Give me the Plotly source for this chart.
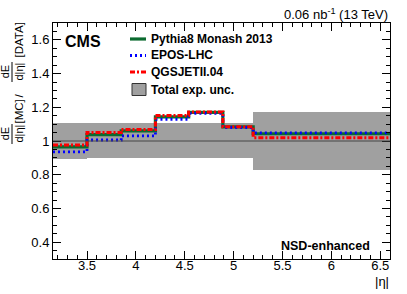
import plotly.graph_objects as go

# ---- data ----
bin_edges = [3.152, 3.5, 3.85, 4.2, 4.54, 4.89, 5.2, 6.6]
pythia = [0.965, 1.038, 1.060, 1.143, 1.170, 1.084, 1.043]
epos = [0.935, 1.006, 1.030, 1.128, 1.164, 1.080, 1.048]
qgsjet = [0.976, 1.050, 1.068, 1.151, 1.172, 1.085, 1.020]
unc_low = [0.893, 0.900, 0.900, 0.900, 0.900, 0.900, 0.830]
unc_high = [1.108, 1.105, 1.105, 1.105, 1.105, 1.105, 1.175]
x_ticks = [3.5, 4, 4.5, 5, 5.5, 6, 6.5]
x_ticklabels = ["3.5", "4", "4.5", "5", "5.5", "6", "6.5"]
y_ticks = [0.4, 0.6, 0.8, 1.0, 1.2, 1.4, 1.6]
y_ticklabels = ["0.4", "0.6", "0.8", "1", "1.2", "1.4", "1.6"]
legend_labels = ["Pythia8 Monash 2013", "EPOS-LHC", "QGSJETII.04", "Total exp. unc."]

W, H = 407, 294
L, R, T, B = 53, 17, 23, 35
FONT = "Liberation Sans, Arial, Helvetica, sans-serif"

GREEN, BLUE, RED, GRAY = "#0b6b30", "#0000ff", "#ff0000", "#a0a0a0"
STYLES = [
    dict(color=GREEN, dash="solid", width=3.2),
    dict(color=BLUE, dash="2px,3px", width=2.8),
    dict(color=RED, dash="5px,2px,2px,2px", width=3),
]


def px(x):
    return (x - L) / (W - L - R)


def py(y):
    return (H - B - y) / (H - T - B)


centers = [(a + b) / 2 for a, b in zip(bin_edges[:-1], bin_edges[1:])]
widths = [b - a for a, b in zip(bin_edges[:-1], bin_edges[1:])]

fig = go.Figure()

fig.add_trace(go.Bar(
    x=centers, y=[h - l for h, l in zip(unc_high, unc_low)], base=unc_low,
    width=widths, marker=dict(color=GRAY, line=dict(width=0)),
    name=legend_labels[3], hoverinfo="skip", showlegend=False))

for vals, name, st in zip([pythia, epos, qgsjet], legend_labels[:3], STYLES):
    fig.add_trace(go.Scatter(
        x=bin_edges, y=vals + [vals[-1]], mode="lines", line_shape="hv",
        line=st, name=name, showlegend=False))

shapes = [dict(type="line", xref="paper", yref="y", x0=0, x1=1, y0=1, y1=1,
               line=dict(color="#444444", width=1), layer="above")]

annotations = []


def ann(text, x, y, xanchor="left", size=12, angle=0):
    annotations.append(dict(text=text, x=px(x), y=py(y), xref="paper", yref="paper",
                            xanchor=xanchor, yanchor="middle", showarrow=False,
                            textangle=angle,
                            font=dict(size=size, family=FONT, color="black")))


ann("<b>CMS</b>", 63, 41, size=16)
ann("0.06 nb<sup>-1</sup> (13 TeV)", 390, 14, xanchor="right", size=13)
ann("<b>NSD-enhanced</b>", 372, 246, xanchor="right", size=12.5)
ann("|η|", 391, 281, xanchor="right", size=13)

# legend drawn by hand (ROOT-style compact rows)
leg_rows = [39, 55.5, 72, 89.5]
for lab, yrow in zip(legend_labels, leg_rows):
    ann("<b>" + lab + "</b>", 148.5, yrow, size=12)
for st, yrow in zip(STYLES, leg_rows[:3]):
    shapes.append(dict(type="line", xref="paper", yref="paper",
                       x0=px(130), x1=px(146), y0=py(yrow), y1=py(yrow),
                       line=st))
yb = leg_rows[3]
shapes.append(dict(type="rect", xref="paper", yref="paper",
                   x0=px(132), x1=px(146), y0=py(yb + 6), y1=py(yb - 6),
                   fillcolor=GRAY, line=dict(color="#333333", width=1)))

# y-axis title built as rotated fractions: dE/d|η| [MC] / dE/d|η| [DATA]
TS = 11


def frac(yc):
    ann("dE<br>d|η|", 11.5, yc, xanchor="center", size=TS, angle=-90)
    shapes.append(dict(type="line", xref="paper", yref="paper",
                       x0=px(12), x1=px(12), y0=py(yc - 10), y1=py(yc + 10),
                       line=dict(color="black", width=1)))


frac(134)
ann("[MC]", 18.5, 112, xanchor="center", size=11.5, angle=-90)
ann("/", 18.5, 96, xanchor="center", size=11.5, angle=-90)
frac(72)
ann("[DATA]", 18.5, 40, xanchor="center", size=11.5, angle=-90)

axis_common = dict(showline=True, linecolor="black", linewidth=1, mirror="allticks",
                   ticks="inside", ticklen=8, tickcolor="black", showgrid=False,
                   zeroline=False, tickfont=dict(size=13, family=FONT, color="black"))

fig.update_layout(
    width=W, height=H, margin=dict(l=L, r=R, t=T, b=B),
    plot_bgcolor="white", paper_bgcolor="white",
    barmode="overlay", bargap=0,
    font=dict(family=FONT, color="black"),
    showlegend=False,
    xaxis=dict(range=[3.152, 6.6], tickvals=x_ticks, ticktext=x_ticklabels,
               ticklabelstandoff=-6,
               minor=dict(dtick=0.1, tick0=0, ticks="inside", ticklen=4, tickcolor="black"),
               **axis_common),
    yaxis=dict(range=[0.3, 1.7], tickvals=y_ticks, ticktext=y_ticklabels,
               minor=dict(dtick=0.05, tick0=0, ticks="inside", ticklen=4, tickcolor="black"),
               **axis_common),
    shapes=shapes, annotations=annotations,
)

fig.write_html("out.html", config={"displayModeBar": False},
               post_script="document.body.style.margin='0';document.body.style.padding='0';")
